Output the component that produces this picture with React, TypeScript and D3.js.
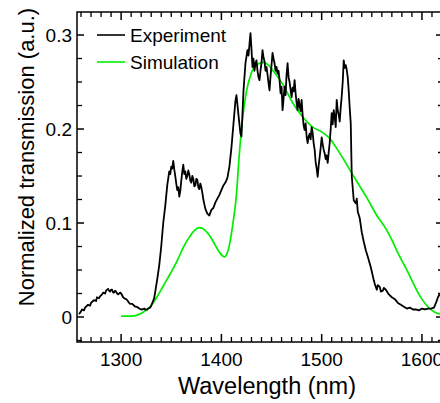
import React from "react";
import * as d3 from "d3";

const expWavelength = [
  1258, 1260, 1261, 1263, 1264, 1266, 1267, 1269, 1270, 1272, 1273, 1275, 1276, 1278, 1279, 1281, 1282, 1284, 1285,
  1287, 1288, 1289, 1290, 1291, 1292, 1293, 1294, 1295, 1296, 1297, 1299, 1300, 1302, 1303, 1305, 1306, 1308, 1309,
  1311, 1312, 1314, 1315, 1317, 1318, 1320, 1321, 1323, 1324, 1326, 1327, 1329, 1330, 1333, 1336, 1338, 1340, 1342,
  1344, 1346, 1348, 1349, 1350, 1351, 1352, 1353, 1354, 1355, 1356, 1357, 1358, 1359, 1360, 1361, 1362, 1363, 1364,
  1365, 1366, 1367, 1368, 1369, 1370, 1371, 1372, 1373, 1374, 1375, 1376, 1377, 1378, 1379, 1380, 1381, 1382, 1384,
  1386, 1388, 1390, 1392, 1394, 1396, 1398, 1400, 1402, 1404, 1406, 1408, 1410, 1412, 1414, 1415, 1416, 1417, 1419,
  1420, 1422, 1424, 1426, 1427, 1428, 1429, 1430, 1431, 1432, 1433, 1434, 1435, 1436, 1437, 1438, 1439, 1440, 1441,
  1442, 1443, 1444, 1445, 1446, 1447, 1448, 1449, 1450, 1451, 1452, 1453, 1454, 1455, 1456, 1457, 1458, 1459, 1460,
  1461, 1462, 1463, 1464, 1465, 1466, 1467, 1468, 1469, 1470, 1471, 1472, 1473, 1474, 1475, 1476, 1477, 1478, 1479,
  1480, 1481, 1482, 1483, 1484, 1485, 1486, 1487, 1488, 1489, 1490, 1491, 1492, 1493, 1494, 1495, 1496, 1497, 1498,
  1499, 1500, 1501, 1502, 1503, 1504, 1505, 1506, 1507, 1508, 1509, 1510, 1511, 1512, 1513, 1514, 1515, 1516, 1517,
  1518, 1519, 1520, 1521, 1522, 1523, 1524, 1525, 1526, 1527, 1528, 1529, 1530, 1532, 1534, 1535, 1536, 1538, 1540,
  1542, 1544, 1546, 1549, 1552, 1553, 1555, 1556, 1558, 1559, 1561, 1562, 1564, 1567, 1570, 1573, 1576, 1579, 1582,
  1585, 1588, 1591, 1594, 1597, 1600, 1603, 1606, 1609, 1612, 1614, 1616, 1618,
];
const expTransmission = [
  0.003, 0.006, 0.008, 0.007, 0.01, 0.012, 0.013, 0.012, 0.015, 0.017, 0.018, 0.017, 0.021, 0.02, 0.022, 0.024, 0.026,
  0.025, 0.028, 0.03, 0.028, 0.027, 0.029, 0.029, 0.026, 0.026, 0.028, 0.027, 0.025, 0.024, 0.026, 0.025, 0.021, 0.02,
  0.019, 0.018, 0.015, 0.014, 0.014, 0.013, 0.011, 0.011, 0.01, 0.009, 0.008, 0.008, 0.009, 0.008, 0.008, 0.009, 0.01,
  0.012, 0.02, 0.04, 0.055, 0.075, 0.1, 0.118, 0.14, 0.155, 0.152, 0.16, 0.158, 0.166, 0.157, 0.15, 0.142, 0.135, 0.138,
  0.128, 0.134, 0.145, 0.155, 0.162, 0.152, 0.155, 0.147, 0.15, 0.156, 0.152, 0.145, 0.143, 0.15, 0.147, 0.139, 0.14,
  0.147, 0.146, 0.138, 0.136, 0.142, 0.138, 0.132, 0.125, 0.115, 0.11, 0.108, 0.114, 0.116, 0.122, 0.126, 0.13, 0.135,
  0.14, 0.143, 0.148, 0.16, 0.18, 0.205, 0.23, 0.236, 0.226, 0.215, 0.195, 0.192, 0.24, 0.27, 0.284, 0.278, 0.29, 0.302,
  0.285, 0.266, 0.275, 0.262, 0.27, 0.273, 0.262, 0.255, 0.252, 0.262, 0.27, 0.284, 0.276, 0.272, 0.262, 0.266, 0.258,
  0.249, 0.241, 0.256, 0.268, 0.281, 0.275, 0.27, 0.262, 0.266, 0.259, 0.262, 0.252, 0.238, 0.245, 0.22, 0.232, 0.245,
  0.236, 0.258, 0.27, 0.255, 0.25, 0.242, 0.234, 0.244, 0.24, 0.252, 0.238, 0.228, 0.22, 0.232, 0.225, 0.219, 0.231,
  0.215, 0.204, 0.199, 0.206, 0.192, 0.185, 0.192, 0.195, 0.189, 0.202, 0.196, 0.185, 0.178, 0.165, 0.158, 0.149, 0.161,
  0.17, 0.18, 0.191, 0.184, 0.178, 0.174, 0.168, 0.172, 0.164, 0.175, 0.185, 0.2, 0.217, 0.205, 0.22, 0.213, 0.202,
  0.231, 0.22, 0.215, 0.208, 0.223, 0.235, 0.25, 0.273, 0.265, 0.268, 0.263, 0.255, 0.24, 0.222, 0.206, 0.15, 0.124,
  0.121, 0.126, 0.112, 0.105, 0.09, 0.08, 0.071, 0.064, 0.053, 0.039, 0.035, 0.029, 0.034, 0.032, 0.027, 0.028, 0.031,
  0.029, 0.024, 0.021, 0.019, 0.015, 0.013, 0.011, 0.009, 0.01, 0.008, 0.008, 0.007, 0.009, 0.008, 0.009, 0.009, 0.01,
  0.015, 0.021, 0.025,
];

const simWavelength = [
  1300, 1310, 1316, 1322, 1329, 1335, 1342, 1349, 1356, 1362, 1368, 1373, 1378, 1383, 1388, 1393, 1398,
  1403, 1407, 1411, 1415, 1418, 1421, 1425, 1430, 1436, 1442, 1447, 1453, 1461, 1471, 1481, 1491, 1500,
  1508, 1514, 1524, 1534, 1545, 1555, 1564, 1570, 1577, 1584, 1590, 1595, 1600, 1605, 1610, 1615, 1620,
];
const simTransmission = [
  0.001, 0.001, 0.002, 0.005, 0.011, 0.02, 0.033, 0.046, 0.06, 0.074, 0.085, 0.092, 0.095, 0.093, 0.087, 0.078, 0.069,
  0.064, 0.072, 0.096, 0.13, 0.175, 0.21, 0.24, 0.26, 0.269, 0.271, 0.268, 0.26, 0.248, 0.228, 0.213, 0.202, 0.197,
  0.19, 0.181, 0.164, 0.146, 0.127, 0.108, 0.094, 0.082, 0.066, 0.052, 0.039, 0.028, 0.019, 0.012, 0.007, 0.004, 0.003,
];

const xMajorTicks = [1300, 1400, 1500, 1600];
const yMajorTicks = [0, 0.1, 0.2, 0.3];
const yTickLabels = ["0", "0.1", "0.2", "0.3"];
const legendLabels = ["Experiment", "Simulation"];
const seriesColors = ["#000000", "#00ee00"];

const W = 440;
const H = 403;
const left = 77;
const right = 443;
const top = 12;
const bottom = 342;
const FONT = "'Liberation Sans', Arial, sans-serif";

export default function App() {
  const x = d3.scaleLinear().domain([1256, 1621]).range([left, right]);
  const y = d3.scaleLinear().domain([-0.0266, 0.3245]).range([bottom, top]);

  const expData = expWavelength.map((w, i) => [w, expTransmission[i]] as [number, number]);
  const simData = simWavelength.map((w, i) => [w, simTransmission[i]] as [number, number]);

  const line = d3
    .line<[number, number]>()
    .x((d) => x(d[0]))
    .y((d) => y(d[1]));
  const smooth = d3
    .line<[number, number]>()
    .x((d) => x(d[0]))
    .y((d) => y(d[1]))
    .curve(d3.curveMonotoneX);

  const xMinor = d3.range(1260, 1621, 10).filter((v) => v % 100 !== 0);
  const yMinor = d3.range(-0.025, 0.325, 0.025).filter((v) => Math.abs(v * 10 - Math.round(v * 10)) > 1e-6);

  return (
    <svg
      width={W}
      height={H}
      style={{ position: "absolute", left: 0, top: 0, background: "#fff" }}
      fontFamily={FONT}
    >
      <rect x={0} y={0} width={W} height={H} fill="#fff" />
      <clipPath id="plotclip">
        <rect x={left} y={top} width={right - left} height={bottom - top} />
      </clipPath>
      <g clipPath="url(#plotclip)">
        <path d={smooth(simData) || ""} fill="none" stroke={seriesColors[1]} strokeWidth={1.7} />
        <path d={line(expData) || ""} fill="none" stroke={seriesColors[0]} strokeWidth={1.8} strokeLinejoin="round" />
      </g>
      {/* frame */}
      <rect x={left} y={top} width={right - left} height={bottom - top} fill="none" stroke="#000" strokeWidth={1.5} />
      {/* x ticks bottom & top */}
      {xMajorTicks.map((t) => (
        <g key={"xM" + t}>
          <line x1={x(t)} x2={x(t)} y1={bottom} y2={bottom - 8} stroke="#000" strokeWidth={1.5} />
          <line x1={x(t)} x2={x(t)} y1={top} y2={top + 8} stroke="#000" strokeWidth={1.5} />
          <text x={x(t)} y={366} textAnchor="middle" fontSize={19} fill="#000">
            {t}
          </text>
        </g>
      ))}
      {xMinor.map((t) => (
        <g key={"xm" + t}>
          <line x1={x(t)} x2={x(t)} y1={bottom} y2={bottom - 5} stroke="#000" strokeWidth={1.3} />
          <line x1={x(t)} x2={x(t)} y1={top} y2={top + 5} stroke="#000" strokeWidth={1.3} />
        </g>
      ))}
      {/* y ticks left & right */}
      {yMajorTicks.map((t, i) => (
        <g key={"yM" + t}>
          <line x1={left} x2={left + 7} y1={y(t)} y2={y(t)} stroke="#000" strokeWidth={1.5} />
          <line x1={right} x2={right - 7} y1={y(t)} y2={y(t)} stroke="#000" strokeWidth={1.5} />
          <text x={72} y={y(t) + 7} textAnchor="end" fontSize={19} fill="#000">
            {yTickLabels[i]}
          </text>
        </g>
      ))}
      {yMinor.map((t) => (
        <g key={"ym" + t.toFixed(3)}>
          <line x1={left} x2={left + 5} y1={y(t)} y2={y(t)} stroke="#000" strokeWidth={1.3} />
          <line x1={right} x2={right - 5} y1={y(t)} y2={y(t)} stroke="#000" strokeWidth={1.3} />
        </g>
      ))}
      {/* axis titles */}
      <text x={267} y={394} textAnchor="middle" fontSize={23.5} fill="#000">
        Wavelength (nm)
      </text>
      <text
        transform={`translate(34, 157) rotate(-90)`}
        textAnchor="middle"
        fontSize={22}
        fill="#000"
      >
        Normalized transmission (a.u.)
      </text>
      {/* legend */}
      {legendLabels.map((lab, i) => (
        <g key={lab} transform={`translate(0, ${35 + i * 27})`}>
          <line x1={97} x2={125} y1={0} y2={0} stroke={seriesColors[i]} strokeWidth={1.6} />
          <text x={130} y={7} fontSize={19} fill="#000">
            {lab}
          </text>
        </g>
      ))}
    </svg>
  );
}
